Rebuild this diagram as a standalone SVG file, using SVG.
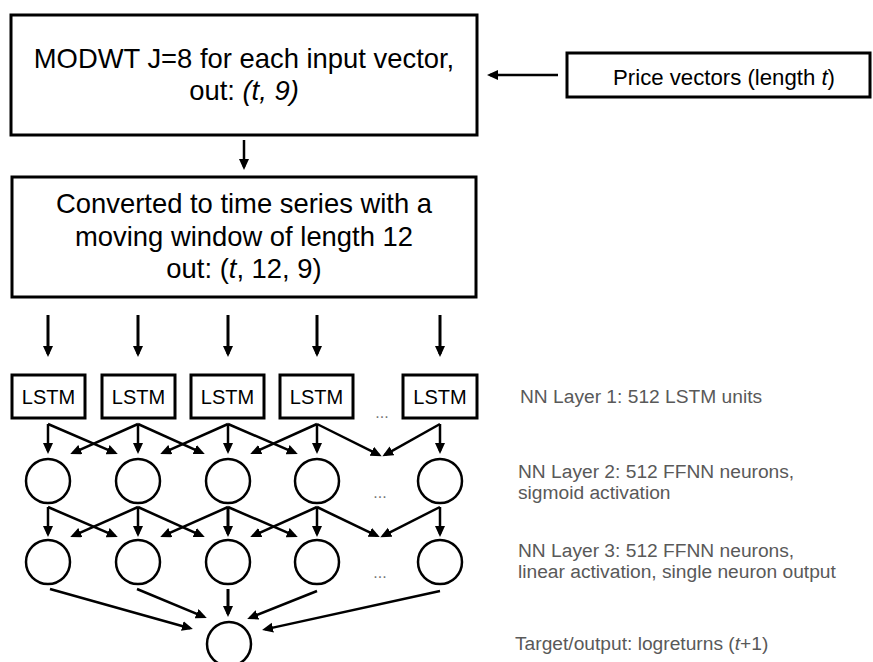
<svg xmlns="http://www.w3.org/2000/svg" width="873" height="662" viewBox="0 0 873 662">
  <style>
    .box { fill: #fff; stroke: #000; stroke-width: 3; }
    .neuron { fill: #fff; stroke: #000; stroke-width: 2.5; }
    .big { font-family: "Liberation Sans", Arial, sans-serif; font-size: 27.4px; fill: #000; text-anchor: middle; }
    .mid { font-family: "Liberation Sans", Arial, sans-serif; font-size: 22.2px; fill: #000; text-anchor: middle; }
    .cell { font-family: "Liberation Sans", Arial, sans-serif; font-size: 20px; fill: #000; text-anchor: middle; }
    .note { font-family: "Liberation Sans", Arial, sans-serif; font-size: 19.2px; fill: #595959; }
    .dots { font-family: "Liberation Sans", Arial, sans-serif; font-size: 16px; fill: #777; text-anchor: middle; }
    .edge { stroke: #000; stroke-width: 2.5; fill: none; marker-end: url(#head); }
    .edge-thick { stroke: #000; stroke-width: 3; fill: none; marker-end: url(#head); }
    .it { font-style: italic; }
  </style>
  <defs>
    <marker id="head" markerUnits="userSpaceOnUse" markerWidth="12" markerHeight="11" refX="8" refY="5" orient="auto">
      <path d="M0,0 L11,5 L0,10 z" fill="#000"/>
    </marker>
  </defs>
  <rect width="873" height="662" fill="#fff"/>

  <!-- preprocessing blocks -->
  <g id="modwt">
    <rect class="box" x="11" y="15" width="466" height="120"/>
    <text class="big" x="244" y="68">MODWT J=8 for each input vector,</text>
    <text class="big" x="244" y="100">out: <tspan class="it">(t, 9)</tspan></text>
  </g>
  <g id="price">
    <rect class="box" x="567" y="53" width="303" height="44"/>
    <text class="mid" x="724" y="85">Price vectors (length <tspan class="it">t</tspan>)</text>
  </g>
  <g id="window">
    <rect class="box" x="12" y="177" width="464" height="120"/>
    <text class="big" x="244" y="213">Converted to time series with a</text>
    <text class="big" x="244" y="246">moving window of length 12</text>
    <text class="big" x="244" y="278">out: (<tspan class="it">t</tspan>, 12, 9)</text>
  </g>

  <!-- layer 1: LSTM cells -->
  <g id="lstm1"><rect class="box" x="12" y="375" width="73" height="43"/><text class="cell" x="48.5" y="404">LSTM</text></g>
  <g id="lstm2"><rect class="box" x="102" y="375" width="73" height="43"/><text class="cell" x="138.5" y="404">LSTM</text></g>
  <g id="lstm3"><rect class="box" x="191" y="375" width="73" height="43"/><text class="cell" x="227.5" y="404">LSTM</text></g>
  <g id="lstm4"><rect class="box" x="280" y="375" width="73" height="43"/><text class="cell" x="316.5" y="404">LSTM</text></g>
  <g id="lstm5"><rect class="box" x="403" y="375" width="74" height="43"/><text class="cell" x="440" y="404">LSTM</text></g>
  <text class="dots" x="382" y="418">...</text>

  <!-- layer 2 neurons -->
  <g id="h2-1"><circle class="neuron" cx="48" cy="481" r="22"/></g>
  <g id="h2-2"><circle class="neuron" cx="138" cy="481" r="22"/></g>
  <g id="h2-3"><circle class="neuron" cx="228" cy="481" r="22"/></g>
  <g id="h2-4"><circle class="neuron" cx="317" cy="481" r="22"/></g>
  <g id="h2-5"><circle class="neuron" cx="440" cy="481" r="22"/></g>
  <text class="dots" x="380" y="498">...</text>

  <!-- layer 3 neurons -->
  <g id="h3-1"><circle class="neuron" cx="48" cy="562" r="22"/></g>
  <g id="h3-2"><circle class="neuron" cx="138" cy="562" r="22"/></g>
  <g id="h3-3"><circle class="neuron" cx="228" cy="562" r="22"/></g>
  <g id="h3-4"><circle class="neuron" cx="317" cy="562" r="22"/></g>
  <g id="h3-5"><circle class="neuron" cx="440" cy="562" r="22"/></g>
  <text class="dots" x="380" y="578">...</text>

  <!-- output neuron -->
  <g id="output"><circle class="neuron" cx="229" cy="644" r="22"/></g>

  <!-- layer captions -->
  <g id="captions">
    <text class="note" x="520" y="403">NN Layer 1: 512 LSTM units</text>
    <text class="note" x="518" y="478">NN Layer 2: 512 FFNN neurons,</text>
    <text class="note" x="518" y="499">sigmoid activation</text>
    <text class="note" x="518" y="557">NN Layer 3: 512 FFNN neurons,</text>
    <text class="note" x="518" y="578">linear activation, single neuron output</text>
    <text class="note" x="515" y="650">Target/output: logreturns (<tspan class="it">t</tspan>+1)</text>
  </g>

  <g id="connectors">
    <!-- preprocessing flow -->
    <line class="edge" x1="558" y1="75" x2="490" y2="75"/>
    <line class="edge" x1="244" y1="140" x2="244" y2="167"/>

    <!-- windowed series into each LSTM cell -->
    <line class="edge-thick" x1="48" y1="315" x2="48" y2="354"/>
    <line class="edge-thick" x1="138" y1="315" x2="138" y2="354"/>
    <line class="edge-thick" x1="228" y1="315" x2="228" y2="354"/>
    <line class="edge-thick" x1="317" y1="315" x2="317" y2="354"/>
    <line class="edge-thick" x1="440" y1="315" x2="440" y2="354"/>

    <!-- LSTM to layer 2 -->
    <line class="edge" x1="48" y1="424" x2="48" y2="451"/>
    <line class="edge" x1="48" y1="424" x2="115" y2="452.8"/>
    <line class="edge" x1="138" y1="424" x2="73" y2="452.8"/>
    <line class="edge" x1="138" y1="424" x2="138" y2="451"/>
    <line class="edge" x1="138" y1="424" x2="202" y2="452.8"/>
    <line class="edge" x1="228" y1="424" x2="163" y2="452.8"/>
    <line class="edge" x1="228" y1="424" x2="228" y2="451"/>
    <line class="edge" x1="228" y1="424" x2="295" y2="452.8"/>
    <line class="edge" x1="317" y1="424" x2="253" y2="452.8"/>
    <line class="edge" x1="317" y1="424" x2="317" y2="451"/>
    <line class="edge" x1="317" y1="424" x2="379" y2="454.8"/>
    <line class="edge" x1="440" y1="424" x2="385" y2="454.8"/>
    <line class="edge" x1="440" y1="424" x2="440" y2="451"/>

    <!-- layer 2 to layer 3 -->
    <line class="edge" x1="48" y1="507" x2="48" y2="534"/>
    <line class="edge" x1="48" y1="507" x2="115" y2="535.8"/>
    <line class="edge" x1="138" y1="507" x2="73" y2="535.8"/>
    <line class="edge" x1="138" y1="507" x2="138" y2="534"/>
    <line class="edge" x1="138" y1="507" x2="202" y2="535.8"/>
    <line class="edge" x1="228" y1="507" x2="163" y2="535.8"/>
    <line class="edge-thick" x1="228" y1="507" x2="228" y2="534"/>
    <line class="edge" x1="228" y1="507" x2="295" y2="535.8"/>
    <line class="edge" x1="317" y1="507" x2="253" y2="535.8"/>
    <line class="edge" x1="317" y1="507" x2="317" y2="534"/>
    <line class="edge" x1="317" y1="507" x2="377" y2="535.8"/>
    <line class="edge" x1="440" y1="507" x2="383" y2="535.8"/>
    <line class="edge" x1="440" y1="507" x2="440" y2="534"/>

    <!-- layer 3 to output -->
    <line class="edge" x1="50" y1="589" x2="190" y2="628.2"/>
    <line class="edge" x1="137" y1="589" x2="204" y2="616.8"/>
    <line class="edge-thick" x1="228" y1="589" x2="228" y2="614"/>
    <line class="edge" x1="317" y1="591" x2="250" y2="617.8"/>
    <line class="edge" x1="440" y1="591" x2="265" y2="629.4"/>
  </g>
</svg>
